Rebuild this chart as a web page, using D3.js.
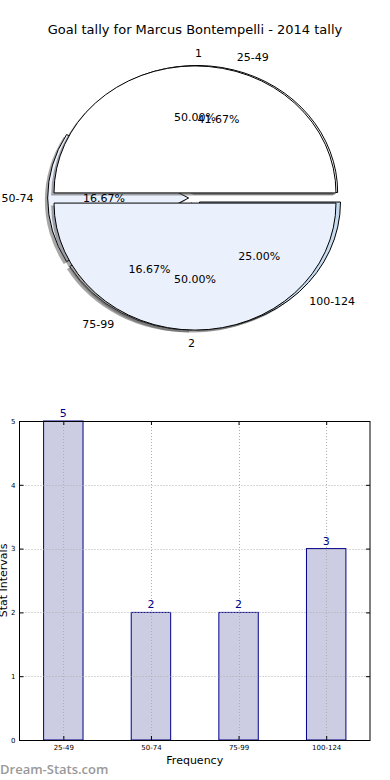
<!DOCTYPE html>
<html>
<head>
<meta charset="utf-8">
<script src="https://cdn.jsdelivr.net/npm/d3@7"></script>
<style>
  html, body { margin: 0; padding: 0; background: #fff; }
  svg { display: block; font-family: "DejaVu Sans", sans-serif; }
</style>
</head>
<body>
<svg id="chart" width="390" height="780"></svg>
<script>
// ---- data ----
const title = "Goal tally for Marcus Bontempelli - 2014 tally";
const pieGroupLabels = ["1", "2"];
const pieGroupValues = [1, 1];
const categories = ["25-49", "50-74", "75-99", "100-124"];
const values = [5, 2, 2, 3];
const yTicks = [0, 1, 2, 3, 4, 5];
const xLabel = "Frequency";
const yLabel = "Stat Intervals";
const watermark = "Dream-Stats.com";

(function () {
// ---- styles ----
const groupColors = ["#ffffff", "#eaf0fc"];
const catColors = ["#ffffff", "#eaf0fc", "#ffffff", "#c6dbf0"];

const svg = d3.select("#chart");

svg.append("text")
  .attr("x", 195).attr("y", 34)
  .attr("text-anchor", "middle")
  .attr("font-size", 13)
  .attr("fill", "#000")
  .text(title);

// ---- pie section ----
const cx = 195, cy = 198, rx = 141, ry = 127;
const shX = -2.8, shY = 2.5;
const pieGen = d3.pie().sort(null).startAngle(Math.PI / 2).endAngle(Math.PI / 2 - 2 * Math.PI);
const arcGen = d3.arc().innerRadius(0).outerRadius(1);

function drawPie(vals, colors, explode) {
  const arcs = pieGen(vals);
  const g = svg.append("g").attr("transform", `translate(${cx},${cy}) scale(${rx},${ry})`);
  arcs.forEach((a) => {
    const mid = (a.startAngle + a.endAngle) / 2;
    const ex = explode * Math.sin(mid), ey = -explode * Math.cos(mid);
    g.append("path")
      .attr("d", arcGen(a))
      .attr("transform", `translate(${ex + shX / rx},${ey + shY / ry})`)
      .attr("fill", "#4d4d4d")
      .attr("fill-opacity", 0.5)
      .attr("stroke", "none");
  });
  arcs.forEach((a, i) => {
    const mid = (a.startAngle + a.endAngle) / 2;
    const ex = explode * Math.sin(mid), ey = -explode * Math.cos(mid);
    g.append("path")
      .attr("d", arcGen(a))
      .attr("transform", `translate(${ex},${ey})`)
      .attr("fill", colors[i])
      .attr("stroke", "#000")
      .attr("stroke-width", 1)
      .attr("stroke-linejoin", "round")
      .attr("vector-effect", "non-scaling-stroke");
  });
  return arcs;
}

function drawPieLabels(arcs, labels, explode) {
  const total = d3.sum(arcs, a => a.value);
  arcs.forEach((a, i) => {
    const mid = (a.startAngle + a.endAngle) / 2;
    const theta = Math.PI / 2 - mid;
    const c = Math.cos(theta), s = Math.sin(theta);
    const ox = cx + rx * explode * c, oy = cy - ry * explode * s;
    svg.append("text")
      .attr("x", ox + rx * 1.1 * c)
      .attr("y", oy - ry * 1.1 * s)
      .attr("dy", "0.35em")
      .attr("text-anchor", c > 0 ? "start" : "end")
      .attr("font-size", 11)
      .attr("fill", "#000")
      .text(labels[i]);
    svg.append("text")
      .attr("x", ox + rx * 0.6 * c)
      .attr("y", oy - ry * 0.6 * s)
      .attr("dy", "0.35em")
      .attr("text-anchor", "middle")
      .attr("font-size", 11)
      .attr("fill", "#000")
      .text((a.value / total * 100).toFixed(2) + "%");
  });
}

const catArcs = drawPie(values, catColors, 0.045);
const grpArcs = drawPie(pieGroupValues, groupColors, 0.04);
drawPieLabels(grpArcs, pieGroupLabels, 0.04);
drawPieLabels(catArcs, categories, 0.045);

// ---- bar chart ----
const pL = 19.5, pR = 370, pT = 421, pB = 740;
const x = d3.scaleLinear().domain([-0.5, categories.length - 0.5]).range([pL, pR]);
const y = d3.scaleLinear().domain([0, 5]).range([pB, pT]);
const barW = 0.45;

const bar = svg.append("g");

bar.selectAll("rect.bar").data(values).join("rect")
  .attr("class", "bar")
  .attr("x", (d, i) => x(i - barW / 2))
  .attr("width", (d, i) => x(i + barW / 2) - x(i - barW / 2))
  .attr("y", d => y(d))
  .attr("height", d => y(0) - y(d))
  .attr("fill", "#ccccE3")
  .attr("stroke", "#00008b")
  .attr("stroke-width", 1);

const gridStyle = sel => sel.attr("stroke", "#b0b0b0").attr("stroke-width", 1).attr("stroke-dasharray", "1,2");
bar.selectAll("line.hgrid").data(yTicks).join("line")
  .attr("class", "hgrid")
  .attr("x1", pL).attr("x2", pR)
  .attr("y1", d => Math.round(y(d)) + 0.5).attr("y2", d => Math.round(y(d)) + 0.5)
  .call(gridStyle);
bar.selectAll("line.vgrid").data(categories).join("line")
  .attr("class", "vgrid")
  .attr("x1", (d, i) => Math.round(x(i)) + 0.5).attr("x2", (d, i) => Math.round(x(i)) + 0.5)
  .attr("y1", pT).attr("y2", pB)
  .call(gridStyle);

bar.append("rect")
  .attr("x", pL).attr("y", pT + 0.5)
  .attr("width", pR - pL).attr("height", pB - pT)
  .attr("fill", "none").attr("stroke", "#000").attr("stroke-width", 1);

const yAxis = d3.axisLeft(y).tickValues(yTicks).tickSize(-4).tickPadding(4).tickFormat(d3.format("d"));
const yAxisG = bar.append("g").attr("transform", `translate(${pL},0)`).call(yAxis);
yAxisG.select(".domain").remove();
yAxisG.selectAll("text").attr("font-size", 7).attr("font-family", "DejaVu Sans, sans-serif").attr("fill", "#000");
const yAxisR = d3.axisRight(y).tickValues(yTicks).tickSize(-4).tickFormat("");
const yAxisRG = bar.append("g").attr("transform", `translate(${pR},0)`).call(yAxisR);
yAxisRG.select(".domain").remove();

const xAxis = d3.axisBottom(x).tickValues(d3.range(categories.length)).tickSize(-4).tickPadding(5)
  .tickFormat(i => categories[i]);
const xAxisG = bar.append("g").attr("transform", `translate(0,${pB})`).call(xAxis);
xAxisG.select(".domain").remove();
xAxisG.selectAll("text").attr("font-size", 7).attr("font-family", "DejaVu Sans, sans-serif").attr("fill", "#000");
const xAxisT = d3.axisTop(x).tickValues(d3.range(categories.length)).tickSize(-4).tickFormat("");
const xAxisTG = bar.append("g").attr("transform", `translate(0,${pT})`).call(xAxisT);
xAxisTG.select(".domain").remove();

bar.selectAll("text.val").data(values).join("text")
  .attr("class", "val")
  .attr("x", (d, i) => x(i))
  .attr("y", d => y(d) - 4)
  .attr("text-anchor", "middle")
  .attr("font-size", 11)
  .attr("fill", "#00008b")
  .text(d => d);

svg.append("text")
  .attr("x", (pL + pR) / 2).attr("y", 764)
  .attr("text-anchor", "middle")
  .attr("font-size", 11)
  .attr("fill", "#000")
  .text(xLabel);
svg.append("text")
  .attr("transform", `translate(7,${(pT + pB) / 2}) rotate(-90)`)
  .attr("text-anchor", "middle")
  .attr("font-size", 11)
  .attr("fill", "#000")
  .text(yLabel);

svg.append("text")
  .attr("x", 0).attr("y", 774)
  .attr("font-family", "'Open Sans', sans-serif")
  .attr("font-size", 13)
  .attr("font-weight", 600)
  .attr("fill", "#999")
  .text(watermark);
})();
</script>
</body>
</html>
